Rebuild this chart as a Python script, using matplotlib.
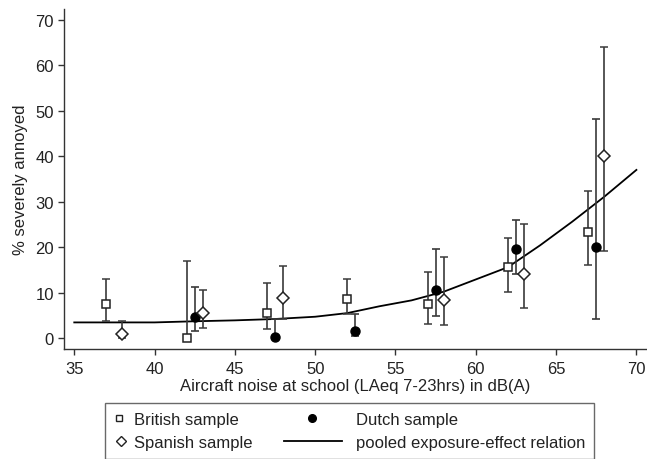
import numpy as np
import matplotlib
matplotlib.use("Agg")
import matplotlib.pyplot as plt
from matplotlib.lines import Line2D
from matplotlib.legend_handler import HandlerLine2D

plt.rcParams['font.family'] = ['Liberation Sans', 'DejaVu Sans']

# British sample: noise level, % severely annoyed, 95% CI
brit_x = [37, 42, 47, 52, 57, 62, 67]
brit_y = [7.5, 0.1, 5.6, 8.5, 7.5, 15.6, 23.4]
brit_lo = [3.7, 0.0, 2.0, 5.3, 3.2, 10.2, 16.0]
brit_hi = [13.1, 16.9, 12.2, 12.9, 14.6, 22.0, 32.4]

# Dutch sample
dutch_x = [42.5, 47.5, 52.5, 57.5, 62.5, 67.5]
dutch_y = [4.7, 0.2, 1.6, 10.6, 19.6, 20.1]
dutch_lo = [1.5, 0.0, 0.5, 4.8, 14.1, 4.3]
dutch_hi = [11.2, 4.3, 5.4, 19.7, 25.9, 48.2]

# Spanish sample
span_x = [38, 43, 48, 58, 63, 68]
span_y = [0.8, 5.5, 8.8, 8.3, 14.1, 40.0]
span_lo = [0.0, 2.3, 4.1, 2.9, 6.7, 19.2]
span_hi = [3.8, 10.6, 15.9, 17.8, 25.0, 64.0]

# pooled exposure-effect relation
curve_x = [35, 37.5, 40, 42.5, 45, 47.5, 50, 52, 54, 56, 58, 60, 62, 64, 66, 68, 70]
curve_y = [3.45, 3.45, 3.45, 3.7, 3.9, 4.2, 4.7, 5.5, 7.0, 8.3, 10.2, 12.9, 15.6, 20.4,
           25.6, 31.1, 37.0]


class HandlerAt(HandlerLine2D):
    # legend line drawn from a to b (in handle widths); marker sits in the middle
    def __init__(self, a=0.0, b=1.0, **kw):
        super().__init__(**kw)
        self.a, self.b = a, b

    def get_xdata(self, legend, xdescent, ydescent, width, height, fontsize):
        xdata = np.array([-xdescent + self.a * width, -xdescent + self.b * width])
        xm = np.array([-xdescent + 0.5 * (self.a + self.b) * width])
        return xdata, xm


def ci(y, lo, hi):
    y, lo, hi = np.array(y), np.array(lo), np.array(hi)
    return np.vstack([y - lo, hi - y])


fig = plt.figure(figsize=(6.47, 4.60), dpi=100)
ax = fig.add_axes([63.5 / 647, 1 - 350 / 460, 1 - 63.5 / 647, 340 / 460])

ecol = '#3a3a3a'
kw = dict(ecolor=ecol, elinewidth=1.2, capsize=3.2, capthick=1.2, linestyle='none', zorder=3)

ax.plot(curve_x, curve_y, color='black', lw=1.3, zorder=2)
ax.errorbar(brit_x, brit_y, yerr=ci(brit_y, brit_lo, brit_hi), marker='s', ms=5.8,
            mfc='white', mec='#222222', mew=1.1, **kw)
ax.errorbar(dutch_x, dutch_y, yerr=ci(dutch_y, dutch_lo, dutch_hi), marker='o', ms=6.5,
            mfc='black', mec='black', **kw)
ax.errorbar(span_x, span_y, yerr=ci(span_y, span_lo, span_hi), marker='D', ms=6.2,
            mfc='white', mec='#222222', mew=1.1, **kw)

ax.set_xlim(34.33, 70.66)
ax.set_ylim(-2.4, 72.4)
ax.set_xticks(np.arange(35, 71, 5))
ax.set_yticks(np.arange(0, 71, 10))
for s in ['top', 'right']:
    ax.spines[s].set_visible(False)
for s in ['left', 'bottom']:
    ax.spines[s].set_color('#333333')
    ax.spines[s].set_linewidth(1.0)
ax.tick_params(direction='out', length=4.3, width=1, colors='#333333', labelsize=12,
               labelcolor='#222222', pad=4.5)
ax.tick_params(axis='y', pad=2.5)
ax.set_xlabel('Aircraft noise at school (LAeq 7-23hrs) in dB(A)', fontsize=12,
              color='#222222', labelpad=1.5)
ax.set_ylabel('% severely annoyed', fontsize=12, color='#222222', labelpad=5)

h_brit = Line2D([], [], marker='s', ms=4.8, mfc='white', mec='#222222', mew=1.0, ls='none')
h_dutch = Line2D([], [], marker='o', ms=5.5, mfc='black', mec='black', ls='none')
h_span = Line2D([], [], marker='D', ms=5.3, mfc='white', mec='#222222', mew=1.0, ls='none')
h_curve = Line2D([], [], color='black', lw=1.3)

leg = fig.legend([h_brit, h_span, h_dutch, h_curve],
                 ['British sample', 'Spanish sample', 'Dutch sample',
                  'pooled exposure-effect relation'],
                 ncol=2, loc='upper left', bbox_to_anchor=(105 / 647, 1 - 404 / 460),
                 borderaxespad=0, fontsize=12, frameon=True, fancybox=False,
                 edgecolor='#444444', handlelength=0.96, handletextpad=0.25,
                 columnspacing=4.95, labelspacing=0.45, borderpad=0.55, numpoints=1,
                 handler_map={h_brit: HandlerAt(0.3, 0.3), h_span: HandlerAt(0.4, 0.4),
                              h_dutch: HandlerAt(-1.43, -1.43),
                              h_curve: HandlerAt(-3.18, 0.43)})
leg.get_frame().set_linewidth(1.0)
for t in leg.get_texts():
    t.set_color('#222222')

fig.savefig('out.png', dpi=100)
